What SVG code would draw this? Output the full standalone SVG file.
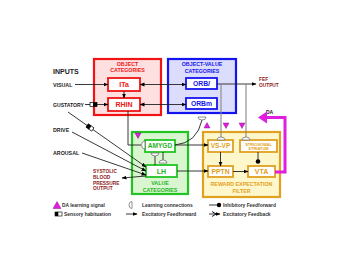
<svg xmlns="http://www.w3.org/2000/svg" width="350" height="270" viewBox="0 0 350 270">
<defs>
<marker id="ah" viewBox="0 0 10 10" refX="9" refY="5" markerWidth="5" markerHeight="5" orient="auto-start-reverse" markerUnits="userSpaceOnUse"><path d="M0,1 L10,5 L0,9 z" fill="#000"/></marker>
</defs>
<style>
text{font-family:"Liberation Sans",Arial,sans-serif;font-weight:bold}
.m{text-anchor:middle}
.lab{font-size:5.3px;fill:#222}
.ttl{font-size:5.3px;text-anchor:middle}
.nm{font-size:7px;text-anchor:middle}
.dr{font-size:4.8px;fill:#8b1a1a}
.leg{font-size:4.9px;fill:#333}
.c{stroke:#222;stroke-width:0.9;fill:none}
.gl{stroke:#888;stroke-width:1.1;fill:none}
.ls{fill:#fff;stroke:#777;stroke-width:0.8}
.da{fill:#e01ee0;stroke:#7a007a;stroke-width:0.4}
.r{fill:#f01414}.b{fill:#1414f0}.g{fill:#1fb51f}.o{fill:#e0a020}
</style>
<rect width="350" height="270" fill="#fff"/>

<g id="inputs-labels">
<text x="53" y="74" style="font-size:7px" fill="#222">INPUTS</text>
<text x="53" y="87" class="lab">VISUAL</text>
<text x="53" y="107" class="lab" style="font-size:5.1px">GUSTATORY</text>
<text x="53" y="132" class="lab">DRIVE</text>
<text x="53" y="155" class="lab">AROUSAL</text>
</g>

<g id="object-categories">
<rect x="94" y="59" width="67" height="56" fill="#ffe0e0" stroke="#f01414" stroke-width="2.2"/>
<text x="127.5" y="65.5" class="ttl r">OBJECT</text>
<text x="127.5" y="72" class="ttl r">CATEGORIES</text>
</g>
<g id="ITa">
<rect x="108" y="78" width="32" height="13" fill="#fff" stroke="#f01414" stroke-width="1.8"/>
<text x="124" y="87" class="nm r">ITa</text>
</g>
<g id="RHIN">
<rect x="108" y="98" width="32" height="13" fill="#fff" stroke="#f01414" stroke-width="1.8"/>
<text x="124" y="107" class="nm r">RHIN</text>
</g>

<g id="object-value-categories">
<rect x="168" y="59" width="68" height="54" fill="#dcdcfc" stroke="#1414f0" stroke-width="2.2"/>
<text x="202" y="66" class="ttl b">OBJECT-VALUE</text>
<text x="202" y="72.5" class="ttl b">CATEGORIES</text>
</g>
<g id="ORBl">
<rect x="186" y="78" width="31" height="11" fill="#fff" stroke="#1414f0" stroke-width="1.8"/>
<text x="201.5" y="86" class="nm b" style="font-size:6.8px">ORB<tspan font-style="italic">l</tspan></text>
</g>
<g id="ORBm">
<rect x="186" y="98" width="31" height="11" fill="#fff" stroke="#1414f0" stroke-width="1.8"/>
<text x="201.5" y="106" class="nm b" style="font-size:6.8px">ORBm</text>
</g>

<g id="value-categories">
<rect x="132" y="132" width="56" height="62" fill="#d9f6d0" stroke="#22c422" stroke-width="2.2"/>
<text x="160" y="185" class="ttl g">VALUE</text>
<text x="160" y="191.5" class="ttl g">CATEGORIES</text>
</g>
<g id="AMYGD">
<rect x="145" y="140" width="30" height="12" fill="#fff" stroke="#22c422" stroke-width="1.8"/>
<text x="160" y="148.4" class="nm g" style="font-size:6.6px">AMYGD</text>
</g>
<g id="LH">
<rect x="146" y="165" width="31" height="12" fill="#fff" stroke="#22c422" stroke-width="1.8"/>
<text x="161.5" y="173.5" class="nm g">LH</text>
</g>

<g id="reward-expectation-filter">
<rect x="203" y="132" width="77" height="65" fill="#fff7cc" stroke="#e0a020" stroke-width="2.2"/>
<text x="241.5" y="186" class="ttl o">REWARD EXPECTATION</text>
<text x="241.5" y="192.5" class="ttl o">FILTER</text>
</g>
<g id="VS-VP">
<rect x="208" y="140" width="25" height="12" fill="#fff" stroke="#e0a020" stroke-width="1.8"/>
<text x="220.5" y="148.4" class="nm o" style="font-size:6.5px">VS-VP</text>
</g>
<g id="striosomal-striatum">
<rect x="240" y="140" width="37" height="12" fill="#fff" stroke="#e0a020" stroke-width="1.8"/>
<text x="258.5" y="145.6" class="m o" style="font-size:4px">STRIOSOMAL</text>
<text x="258.5" y="150.4" class="m o" style="font-size:4px">STRIATUM</text>
</g>
<g id="PPTN">
<rect x="208" y="166" width="25" height="11" fill="#fff" stroke="#e0a020" stroke-width="1.8"/>
<text x="220.5" y="174" class="nm o" style="font-size:6.8px">PPTN</text>
</g>
<g id="VTA">
<rect x="248" y="166" width="27" height="11" fill="#fff" stroke="#e0a020" stroke-width="1.8"/>
<text x="261.5" y="174" class="nm o">VTA</text>
</g>

<g id="outputs-labels">
<text x="259" y="81" class="dr">FEF</text>
<text x="259" y="87.4" class="dr">OUTPUT</text>
<text x="93" y="173.3" class="dr">SYSTOLIC</text>
<text x="93" y="179" class="dr">BLOOD</text>
<text x="93" y="184.5" class="dr">PRESSURE</text>
<text x="93" y="190" class="dr">OUTPUT</text>
<text x="266" y="114" style="font-size:5px" fill="#222">DA</text>
</g>

<g id="connectors">
<line x1="75" y1="84.5" x2="108" y2="84.5" class="c" marker-end="url(#ah)"/>
<line x1="85" y1="104.5" x2="90" y2="104.5" class="c"/>
<rect x="90" y="102.5" width="3.5" height="4" fill="#fff" stroke="#000" stroke-width="0.7"/>
<rect x="93.5" y="102.5" width="3.5" height="4" fill="#000" stroke="#000" stroke-width="0.7"/>
<line x1="97" y1="104.5" x2="108" y2="104.5" class="c" marker-end="url(#ah)"/>
<line x1="140" y1="84.5" x2="186" y2="84.5" class="c" marker-start="url(#ah)" marker-end="url(#ah)"/>
<line x1="140" y1="104.5" x2="186" y2="104.5" class="c" marker-start="url(#ah)" marker-end="url(#ah)"/>
<line x1="124" y1="91" x2="124" y2="98" class="c" marker-end="url(#ah)"/>
<line x1="217" y1="84" x2="256" y2="84" class="c" marker-end="url(#ah)"/>
<polyline points="221,84 221,137" class="gl"/>
<polyline points="246,84 246,137" class="gl"/>
<path d="M217,140 A4,3 0 0 1 225,140 Z" class="ls"/>
<path d="M242,140 A4,3 0 0 1 250,140 Z" class="ls"/>
<polyline points="128,111 128,145 141,145" class="c" stroke="#555"/>
<path d="M145,141 A3.5,4 0 0 0 145,149 Z" class="ls"/>
<path d="M175,145 Q197,143 202,120" class="c" stroke="#555"/>
<path d="M198,117 A4,3 0 0 0 206,117 Z" class="ls"/>
<line x1="175" y1="145" x2="208" y2="145" class="c" marker-end="url(#ah)"/>
<line x1="177" y1="171" x2="208" y2="171" class="c" marker-end="url(#ah)"/>
<line x1="155" y1="156" x2="155" y2="165" class="c" stroke="#555"/>
<path d="M151,153 A4,3 0 0 0 159,153 Z" class="ls"/>
<line x1="163" y1="152" x2="163" y2="160" class="c" stroke="#555"/>
<path d="M159,163 A4,3 0 0 1 167,163 Z" class="ls"/>
<line x1="220.5" y1="152" x2="220.5" y2="166" class="c" marker-end="url(#ah)"/>
<line x1="258" y1="152" x2="258" y2="161" class="c"/>
<circle cx="258" cy="161.5" r="2.3" fill="#000"/>
<line x1="233" y1="171.5" x2="248" y2="171.5" class="c" marker-end="url(#ah)"/>
<polyline points="275,172 285,172 285,117.5 265,117.5" fill="none" stroke="#e01ee0" stroke-width="3"/>
<polygon points="258,117.5 267,111.5 267,123.5" fill="#e01ee0"/>
<line x1="68" y1="112" x2="146" y2="167" class="c" marker-end="url(#ah)"/>
<g transform="translate(90,127.5) rotate(35)">
<rect x="-3.5" y="-2" width="3.5" height="4" fill="#000" stroke="#000" stroke-width="0.7"/>
<rect x="0" y="-2" width="3.5" height="4" fill="#fff" stroke="#000" stroke-width="0.7"/>
</g>
<line x1="72" y1="132" x2="146" y2="171" class="c" marker-end="url(#ah)"/>
<line x1="82" y1="153" x2="146" y2="175" class="c" marker-end="url(#ah)"/>
<line x1="146" y1="176" x2="122" y2="178" class="c" marker-end="url(#ah)"/>
</g>

<g id="da-signals">
<polygon points="135,133 141,133 138,138.5" class="da"/>
<polygon points="223,123 229,123 226,128.5" class="da"/>
<polygon points="239,123 245,123 242,128.5" class="da"/>
<polygon points="204,128 210,128 207,122.5" class="da"/>
</g>

<g id="legend">
<polygon points="53,208.5 61,208.5 57,201.5" class="da"/>
<text x="62" y="207" class="leg">DA learning signal</text>
<rect x="55" y="212" width="3" height="4" fill="#000" stroke="#000" stroke-width="0.6"/>
<rect x="58" y="212" width="4" height="4" fill="#fff" stroke="#000" stroke-width="0.6"/>
<text x="64" y="216" class="leg">Sensory habituation</text>
<path d="M132,201.5 A3,3.5 0 0 0 132,208.5 Z" class="ls" stroke="#333"/>
<text x="142" y="207" class="leg">Learning connections</text>
<line x1="126" y1="214" x2="137" y2="214" class="c" marker-end="url(#ah)"/>
<text x="142" y="216" class="leg">Excitatory Feedforward</text>
<line x1="209" y1="205" x2="218" y2="205" class="c"/>
<circle cx="219" cy="205" r="2.2" fill="#000"/>
<text x="223" y="207" class="leg">Inhibitory  Feedforward</text>
<line x1="209" y1="214" x2="220" y2="214" class="c" marker-end="url(#ah)"/>
<path d="M212,211.5 L216,214 L212,216.5" fill="none" stroke="#000" stroke-width="0.9"/>
<text x="223" y="216" class="leg">Excitatory Feedback</text>
</g>
</svg>
